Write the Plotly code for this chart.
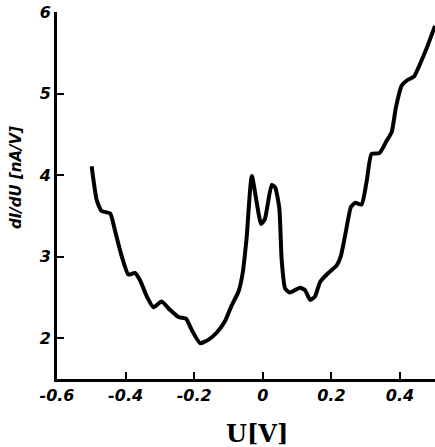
import plotly.graph_objects as go

# Data
U = [-0.499, -0.484, -0.470, -0.445, -0.431, -0.411, -0.392, -0.373, -0.358, -0.338,
     -0.319, -0.295, -0.271, -0.246, -0.224, -0.207, -0.183, -0.159, -0.134, -0.110,
     -0.091, -0.071, -0.059, -0.047, -0.032, -0.005, 0.006, 0.026, 0.036, 0.048,
     0.055, 0.065, 0.079, 0.108, 0.123, 0.138, 0.152, 0.167, 0.191, 0.215,
     0.227, 0.240, 0.257, 0.269, 0.288, 0.303, 0.317, 0.340, 0.361, 0.376,
     0.388, 0.405, 0.420, 0.441, 0.458, 0.478, 0.502]
dIdU = [4.11, 3.69, 3.56, 3.53, 3.32, 3.00, 2.78, 2.80, 2.71, 2.51,
        2.38, 2.45, 2.35, 2.26, 2.24, 2.10, 1.94, 1.98, 2.07, 2.21,
        2.40, 2.57, 2.79, 3.24, 3.99, 3.40, 3.46, 3.88, 3.85, 3.60,
        2.96, 2.61, 2.56, 2.62, 2.59, 2.47, 2.51, 2.69, 2.80, 2.89,
        3.00, 3.26, 3.61, 3.66, 3.64, 3.93, 4.26, 4.27, 4.42, 4.53,
        4.83, 5.10, 5.16, 5.21, 5.36, 5.56, 5.83]

x_tickvals = [-0.6, -0.4, -0.2, 0, 0.2, 0.4]
x_ticktext = ["-0.6", "-0.4", "-0.2", "0", "0.2", "0.4"]
y_tickvals = [2, 3, 4, 5, 6]
y_ticktext = ["2", "3", "4", "5", "6"]

x_title = "U[V]"
y_title = "dI/dU [nA/V]"

fig = go.Figure()
fig.add_trace(go.Scatter(
    x=U, y=dIdU, mode="lines",
    line=dict(color="black", width=4, shape="spline", smoothing=0.5),
    showlegend=False, hoverinfo="skip",
))

tickfont = dict(family="DejaVu Sans", size=16, color="black", weight="bold", style="italic")

fig.update_layout(
    width=435, height=447,
    margin=dict(l=57, r=0, t=12, b=68),
    paper_bgcolor="white", plot_bgcolor="white",
    xaxis=dict(
        range=[-0.6, 0.502], showgrid=False, zeroline=False,
        showline=True, linecolor="black", linewidth=3,
        ticks="inside", ticklen=7, tickwidth=2, tickcolor="black",
        tickvals=x_tickvals, ticktext=x_ticktext, tickfont=tickfont,
    ),
    yaxis=dict(
        range=[1.5, 6.0], showgrid=False, zeroline=False,
        showline=True, linecolor="black", linewidth=3,
        ticks="inside", ticklen=7, tickwidth=2, tickcolor="black",
        tickvals=y_tickvals, ticktext=y_ticktext, tickfont=tickfont,
    ),
    annotations=[
        dict(text=x_title, xref="paper", yref="paper", x=0.53, y=-0.148,
             showarrow=False, xanchor="center", yanchor="middle",
             font=dict(family="DejaVu Serif", size=24, color="black", weight="bold")),
        dict(text=y_title, xref="paper", yref="paper", x=-0.108, y=0.548,
             showarrow=False, xanchor="center", yanchor="middle", textangle=-90,
             font=dict(family="DejaVu Sans", size=15, color="black", weight="bold", style="italic")),
    ],
)

fig.write_html("out.html")
